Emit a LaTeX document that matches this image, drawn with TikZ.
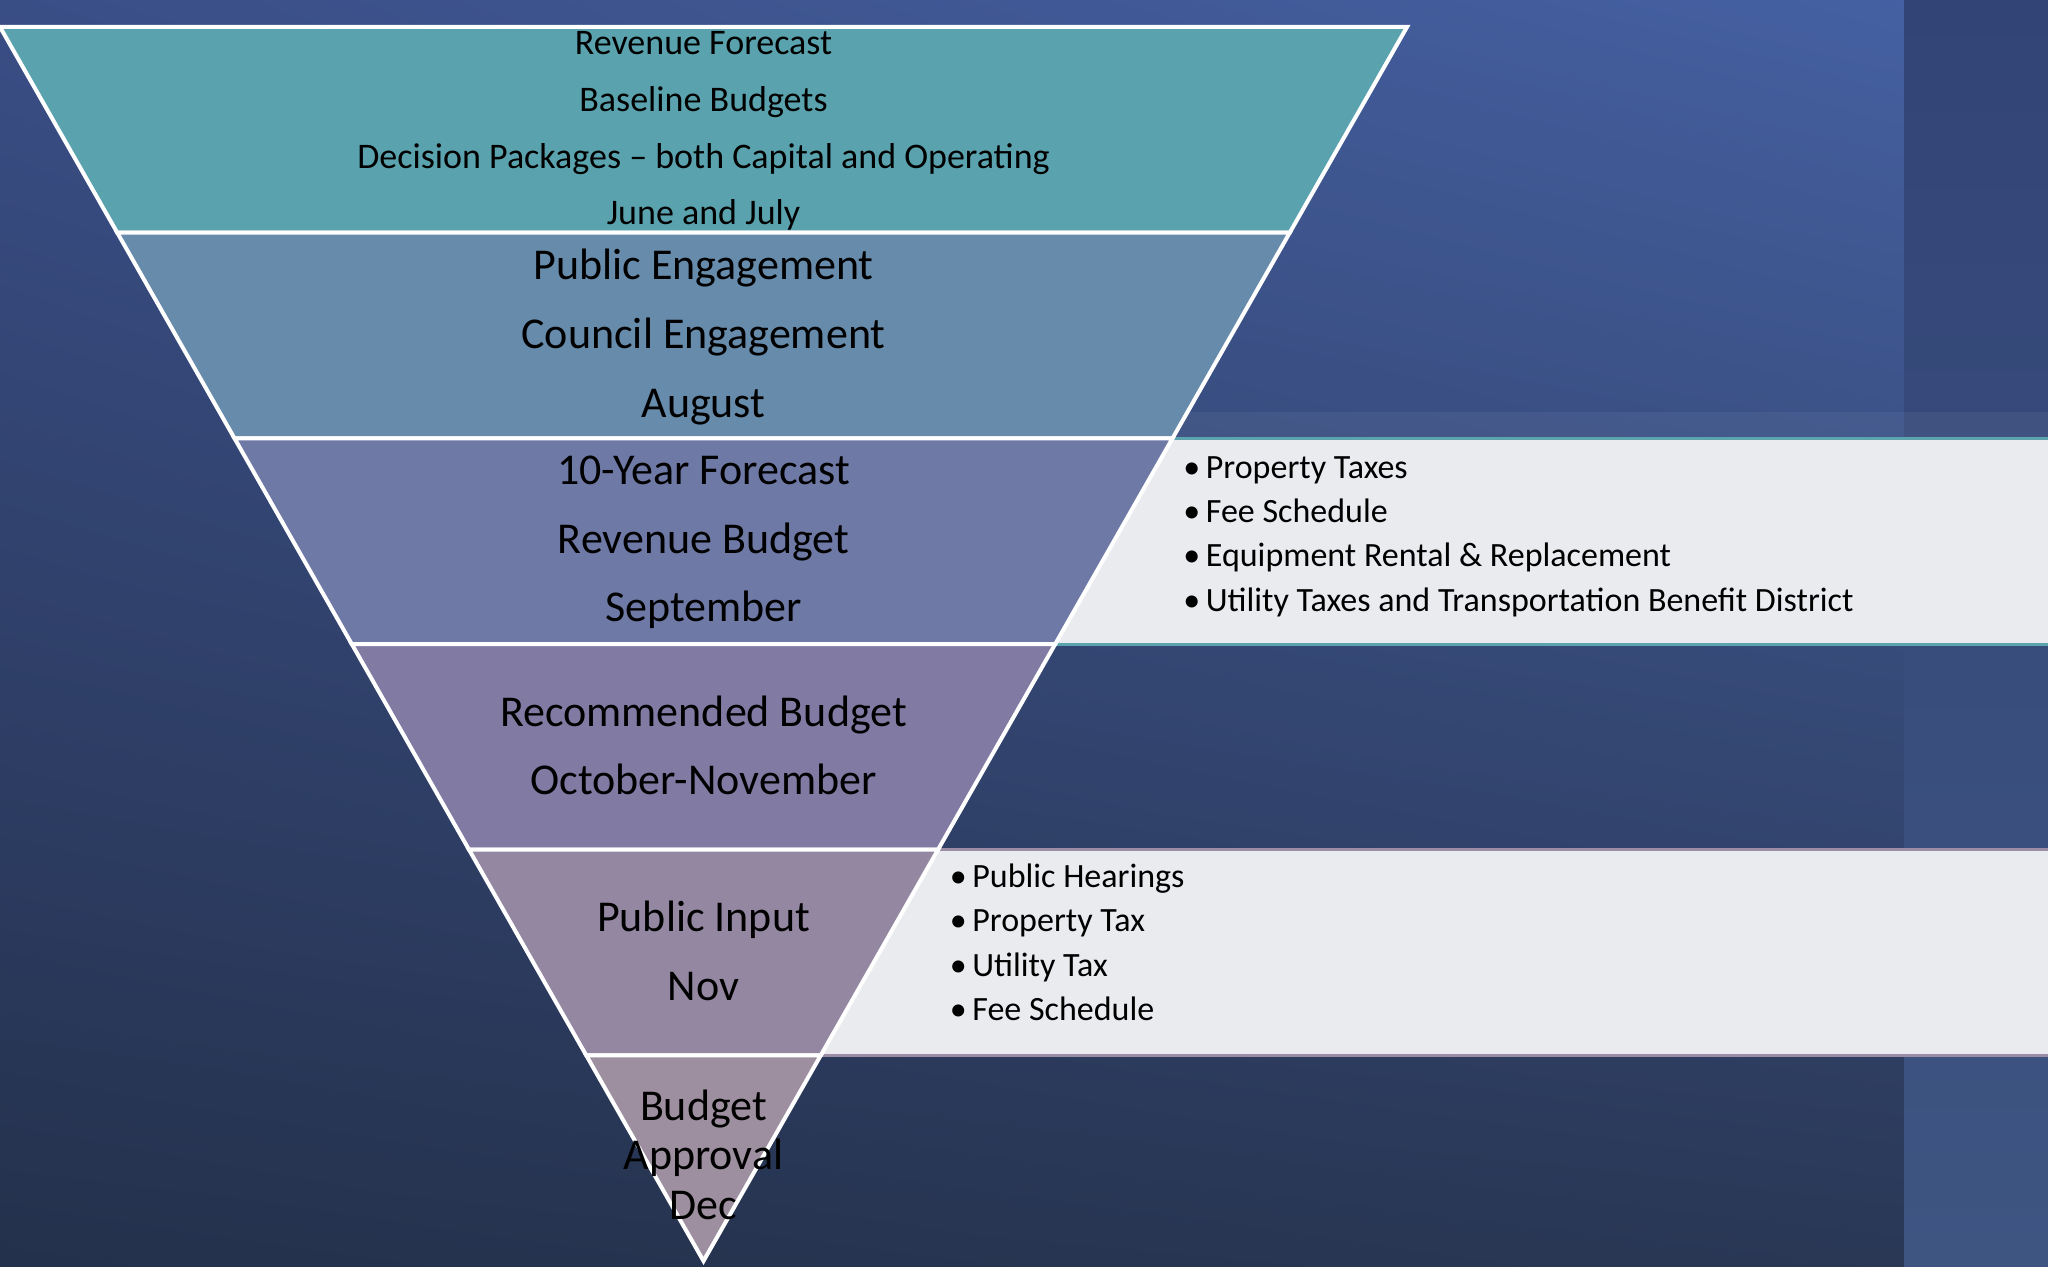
\documentclass[tikz,border=0pt]{standalone}
\usepackage{fontspec}
\setmainfont{Carlito}
\usetikzlibrary{shadings}
\begin{document}
\begin{tikzpicture}[x=0.5pt,y=-0.5pt]
\definecolor{bgTL}{RGB}{58,78,134}
\definecolor{bgTR}{RGB}{70,98,164}
\definecolor{bgBL}{RGB}{36,49,76}
\definecolor{bgBR}{RGB}{42,56,86}
\definecolor{stripT}{RGB}{50,68,118}
\definecolor{stripB}{RGB}{62,85,130}
\definecolor{bandA}{RGB}{90,163,174}
\definecolor{bandB}{RGB}{103,139,171}
\definecolor{bandC}{RGB}{110,121,166}
\definecolor{bandD}{RGB}{129,122,163}
\definecolor{bandE}{RGB}{148,135,161}
\definecolor{bandF}{RGB}{157,143,159}
\definecolor{panelfill}{RGB}{233,235,239}
\definecolor{tealline}{RGB}{91,164,174}
\definecolor{mauveline}{RGB}{154,141,165}
\tikzset{
  band/.style={draw=white, line width=2pt, line join=miter},
  mainA/.style={anchor=base, font=\fontsize{18}{22}\selectfont, text=black, inner sep=0pt},
  mainB/.style={anchor=base, font=\fontsize{22}{26}\selectfont, text=black, inner sep=0pt},
  mainC/.style={anchor=base, font=\fontsize{22}{26}\selectfont, text=black, inner sep=0pt},
  bullet/.style={anchor=base west, font=\fontsize{17}{20}\selectfont, text=black, inner sep=0pt},
}
\newcommand{\bitem}[1]{\makebox[11.25pt][l]{•}#1}
\useasboundingbox (0,0) rectangle (2048,1267);
% background
\shade[upper left=bgTL, upper right=bgTR, lower left=bgBL, lower right=bgBR] (0,0) rectangle (2048,1267);
\shade[top color=stripT, bottom color=stripB] (1904,0) rectangle (2048,1267);
\fill[white, opacity=0.05] (1187,412) -- (2048,412) -- (2048,438) -- (1172.5,438) -- cycle;
% panels
\fill[panelfill] (1165,438.33) -- (2048,438.33) -- (2048,644) -- (1048,644) -- cycle;
\draw[tealline, line width=1.5pt] (1172.5,438.33) -- (2048,438.33);
\draw[tealline, line width=1.5pt] (1055.25,644) -- (2048,644);
\fill[panelfill] (930,849.67) -- (2048,849.67) -- (2048,1055.33) -- (813,1055.33) -- cycle;
\draw[mauveline, line width=1.5pt] (938,849.67) -- (2048,849.67);
\draw[mauveline, line width=1.5pt] (820.75,1055.33) -- (2048,1055.33);
% funnel bands
\path[band, fill=bandA] (0,27) -- (1407,27) -- (1289.75,232.67) -- (117.25,232.67) -- cycle;
\path[band, fill=bandB] (117.25,232.67) -- (1289.75,232.67) -- (1172.5,438.33) -- (234.5,438.33) -- cycle;
\path[band, fill=bandC] (234.5,438.33) -- (1172.5,438.33) -- (1055.25,644) -- (351.75,644) -- cycle;
\path[band, fill=bandD] (351.75,644) -- (1055.25,644) -- (938,849.67) -- (469,849.67) -- cycle;
\path[band, fill=bandE] (469,849.67) -- (938,849.67) -- (820.75,1055.33) -- (586.25,1055.33) -- cycle;
\path[band, fill=bandF] (586.25,1055.33) -- (820.75,1055.33) -- (703.5,1261) -- cycle;
% band texts
\node[mainA] (t1a) at (703.5,55) {Revenue Forecast};
\node[mainA] (t1b) at (703.5,112) {Baseline Budgets};
\node[mainA] (t1c) at (703.5,168.5) {Decision Packages – both Capital and Operating};
\node[mainA] (t1d) at (703.5,224.5) {June and July};
\node[mainB] (t2a) at (703.5,279.5) {Public Engagement};
\node[mainB] (t2b) at (703.5,348.5) {Council Engagement};
\node[mainB] (t2c) at (703.5,417) {August};
\node[mainB] (t3a) at (703.5,484.5) {10-Year Forecast};
\node[mainB] (t3b) at (703.5,553.5) {Revenue Budget};
\node[mainB] (t3c) at (703.5,621.5) {September};
\node[mainB] (t4a) at (703.5,726) {Recommended Budget};
\node[mainB] (t4b) at (703.5,794) {October-November};
\node[mainB] (t5a) at (703.5,931) {Public Input};
\node[mainB] (t5b) at (703.5,1000) {Nov};
\node[mainC] (t6a) at (703.5,1120) {Budget};
\node[mainC] (t6b) at (703.5,1169) {Approval};
\node[mainC] (t6c) at (703.5,1219) {Dec};
% panel bullets
\node[bullet] (p1a) at (1183,478) {\bitem{Property Taxes}};
\node[bullet] (p1b) at (1183,522) {\bitem{Fee Schedule}};
\node[bullet] (p1c) at (1183,566.5) {\bitem{Equipment Rental \& Replacement}};
\node[bullet] (p1d) at (1183,611) {\bitem{Utility Taxes and Transportation Benefit District}};
\node[bullet] (p2a) at (949.5,887) {\bitem{Public Hearings}};
\node[bullet] (p2b) at (949.5,931.5) {\bitem{Property Tax}};
\node[bullet] (p2c) at (949.5,976) {\bitem{Utility Tax}};
\node[bullet] (p2d) at (949.5,1020) {\bitem{Fee Schedule}};
\end{tikzpicture}
\end{document}
